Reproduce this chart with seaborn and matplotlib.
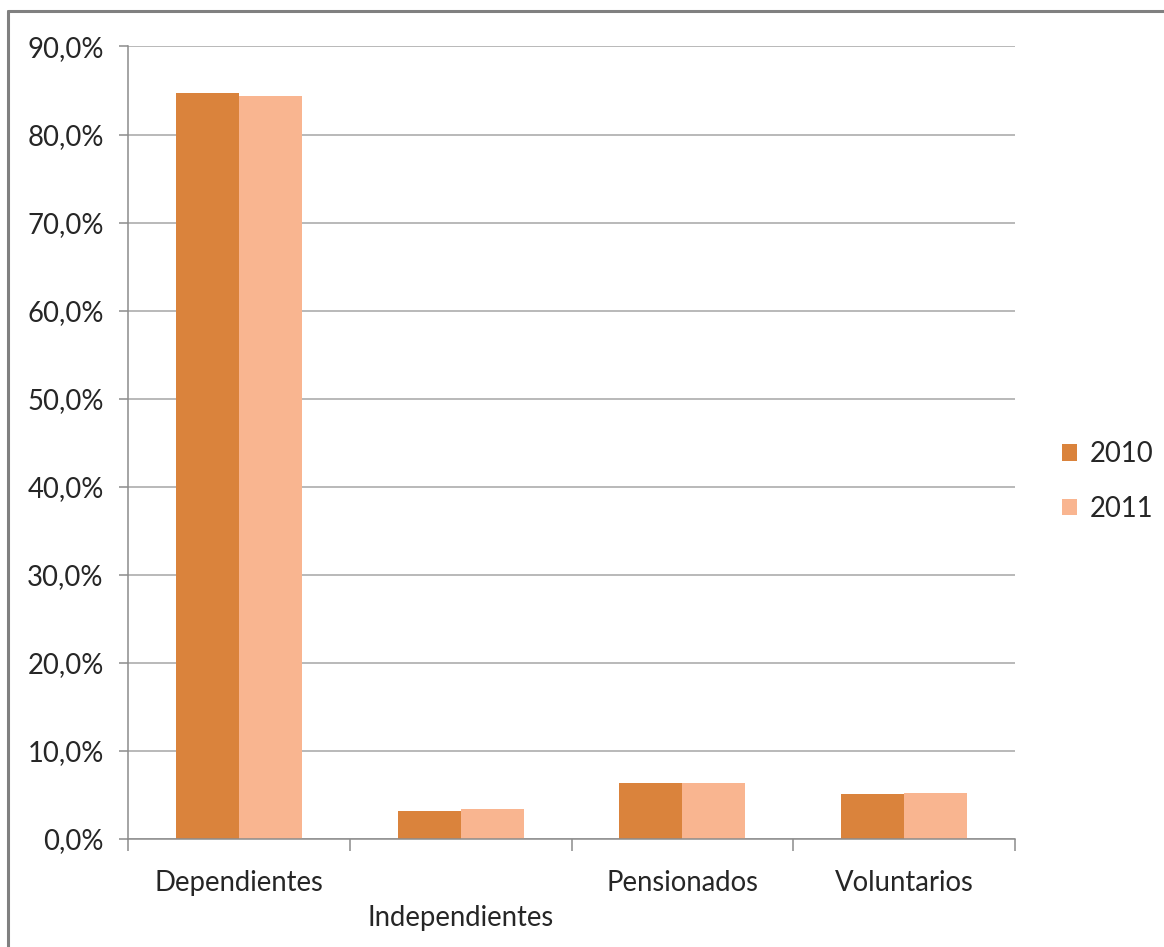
import matplotlib
matplotlib.use("Agg")
import matplotlib.pyplot as plt
from matplotlib.ticker import FuncFormatter, FixedLocator
from matplotlib.lines import Line2D
import seaborn as sns
import pandas as pd

categories = ["Dependientes", "Independientes", "Pensionados", "Voluntarios"]
years = ["2010", "2011"]
share_2010 = [84.7, 3.2, 6.4, 5.1]
share_2011 = [84.4, 3.4, 6.4, 5.2]
y_ticks = [0, 10, 20, 30, 40, 50, 60, 70, 80, 90]

df = pd.DataFrame({
    "categoria": categories * 2,
    "anio": [years[0]] * 4 + [years[1]] * 4,
    "valor": [v / 100 for v in share_2010 + share_2011],
})

sns.set_theme(style="white")
plt.rcParams["font.family"] = ["Lato", "DejaVu Sans"]

FS = 19.8
W, H = 1164, 947
fig = plt.figure(figsize=(W / 100, H / 100), dpi=100)
ax = fig.add_axes([128 / W, (H - 839) / H, 887 / W, (839 - 46.5) / H])

palette = {"2010": "#DA833C", "2011": "#F9B590"}
sns.barplot(data=df, x="categoria", y="valor", hue="anio", palette=palette,
            width=0.568, dodge=True, saturation=1, ax=ax, edgecolor="none",
            linewidth=0, gap=0)

ax.set_xlim(-0.5, 3.5)
ax.set_ylim(0, 0.9)
ax.yaxis.set_major_locator(FixedLocator([t / 100 for t in y_ticks]))
ax.yaxis.set_major_formatter(FuncFormatter(lambda v, p: f"{v * 100:.1f}%".replace(".", ",")))
ax.grid(axis="y", color="#A6A6A6", linewidth=1.1)
ax.set_axisbelow(True)

for side in ["top", "right"]:
    ax.spines[side].set_visible(False)
for side in ["left", "bottom"]:
    ax.spines[side].set_color("#8C8C8C")
    ax.spines[side].set_linewidth(1.1)

ax.tick_params(axis="y", left=True, length=6.5, width=1.1, color="#8C8C8C",
               labelsize=FS, labelcolor="#262626", pad=11)
ax.set_xticks(range(len(categories)))
labels = [c if i != 1 else "\n" + c for i, c in enumerate(categories)]
ax.set_xticklabels(labels, fontsize=FS, color="#262626", linespacing=1.42)
ax.tick_params(axis="x", bottom=False, length=0, pad=22.5)
ax.set_xticks([i - 0.5 for i in range(len(categories) + 1)], minor=True)
ax.tick_params(axis="x", which="minor", bottom=True, length=8.6, width=1.1,
               color="#8C8C8C", direction="out")
ax.set_xlabel("")
ax.set_ylabel("")

handles, lbls = ax.get_legend_handles_labels()
ax.legend(handles, lbls, loc="center left",
          bbox_to_anchor=(1062 / W, 1 - 481.5 / H), bbox_transform=fig.transFigure,
          frameon=False, fontsize=FS, handlelength=0.55, handleheight=0.55,
          handletextpad=0.45, labelspacing=1.02, borderpad=0, borderaxespad=0)

# outer frame along the left and top edges
fig.add_artist(Line2D([8 / W, 8 / W], [0, 1 - 11 / H], transform=fig.transFigure,
                      color="#808080", linewidth=2.2))
fig.add_artist(Line2D([8 / W, 1.0], [1 - 11 / H, 1 - 11 / H], transform=fig.transFigure,
                      color="#808080", linewidth=2.2))

fig.savefig("out.png", dpi=100, facecolor="white")
